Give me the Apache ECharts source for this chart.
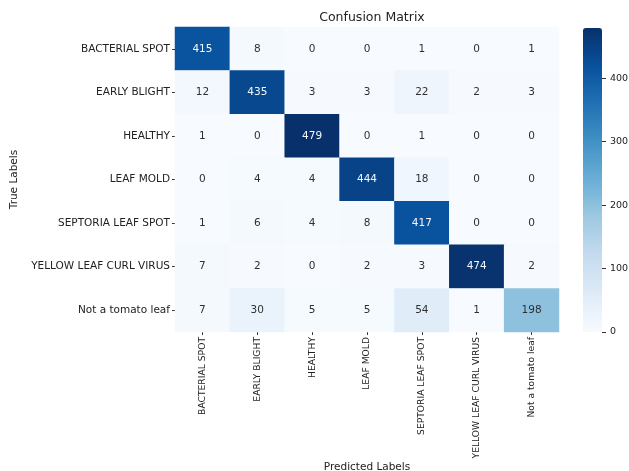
<!DOCTYPE html>
<html>
<head>
<meta charset="utf-8">
<script src="https://cdn.jsdelivr.net/npm/echarts@6/dist/echarts.min.js"></script>
<style>
    html, body { margin: 0; padding: 0; background: #fff; }
    #chart { width: 629px; height: 471px; }
</style>
</head>
<body>
<div id="chart"></div>
<script>
// class names, same order on both axes
var class_names = ['BACTERIAL SPOT', 'EARLY BLIGHT', 'HEALTHY', 'LEAF MOLD',
    'SEPTORIA LEAF SPOT', 'YELLOW LEAF CURL VIRUS', 'Not a tomato leaf'];

// one row per true label
var row_bacterial = [415, 8, 0, 0, 1, 0, 1];
var row_early = [12, 435, 3, 3, 22, 2, 3];
var row_healthy = [1, 0, 479, 0, 1, 0, 0];
var row_mold = [0, 4, 4, 444, 18, 0, 0];
var row_septoria = [1, 6, 4, 8, 417, 0, 0];
var row_yellow = [7, 2, 0, 2, 3, 474, 2];
var row_not_tomato = [7, 30, 5, 5, 54, 1, 198];

var colorbar_ticks = [0, 100, 200, 300, 400];

var blues = ['#f7fbff', '#deebf7', '#c6dbef', '#9ecae1', '#6baed6',
    '#4292c6', '#2171b5', '#08519c', '#08306b'];

window.onload = function () {
    render_matrix();
}

function render_matrix() {
    var rows = [row_bacterial, row_early, row_healthy, row_mold, row_septoria, row_yellow, row_not_tomato];
    var vmax = 0;
    var cells = [];
    for (let i = 0; i < rows.length; i++) {
        for (let j = 0; j < rows[i].length; j++) {
            if (rows[i][j] > vmax) vmax = rows[i][j];
        }
    }
    for (let i = 0; i < rows.length; i++) {
        for (let j = 0; j < rows[i].length; j++) {
            var v = rows[i][j];
            // 深色格子用白字
            cells.push({
                value: [j, i, v],
                label: {color: v > vmax * 0.6 ? '#f4f8fc' : '#303030'}
            });
        }
    }

    var myChart = echarts.init(document.getElementById('chart'));
    var font = 'DejaVu Sans';
    option = {
        animation: false,
        textStyle: {fontFamily: font},
        title: {
            text: 'Confusion Matrix',
            left: 367,
            top: 6,
            textAlign: 'center',
            textStyle: {fontFamily: font, fontSize: 12.5, fontWeight: 'normal', color: '#222'}
        },
        grid: [
            {left: 175, right: 70, top: 27, bottom: 139, outerBoundsMode: 'none'},
            {left: 583, right: 27, top: 28, bottom: 139, outerBoundsMode: 'none'}
        ],
        xAxis: [{
            type: 'category',
            data: class_names,
            gridIndex: 0,
            name: 'Predicted Labels',
            nameLocation: 'middle',
            nameGap: 130,
            nameMoveOverlap: false,
            nameTextStyle: {fontFamily: font, fontSize: 10.5, color: '#222', verticalAlign: 'top'},
            axisLine: {show: false},
            axisTick: {show: true, alignWithLabel: true, length: 3, lineStyle: {color: '#333'}},
            axisLabel: {rotate: 90, fontSize: 9.2, color: '#222', margin: 5, fontFamily: font},
            splitLine: {show: false}
        }, {
            type: 'value',
            gridIndex: 1,
            show: false,
            min: 0,
            max: 1
        }],
        yAxis: [{
            type: 'category',
            data: class_names,
            inverse: true,
            gridIndex: 0,
            name: 'True Labels',
            nameLocation: 'middle',
            nameGap: 155,
            nameMoveOverlap: false,
            nameTextStyle: {fontFamily: font, fontSize: 10.5, color: '#222'},
            axisLine: {show: false},
            axisTick: {show: true, alignWithLabel: true, length: 3, lineStyle: {color: '#333'}},
            axisLabel: {fontSize: 10.5, color: '#222', margin: 5, fontFamily: font},
            splitLine: {show: false}
        }, {
            type: 'value',
            gridIndex: 1,
            position: 'right',
            min: 0,
            max: vmax,
            interval: 100,
            axisLine: {show: false, onZero: false},
            axisTick: {show: true, inside: false, length: 4, lineStyle: {color: '#333'}},
            axisLabel: {
                fontSize: 9.5, color: '#222', margin: 8, fontFamily: font,
                showMaxLabel: false,
                formatter: function (v) { return colorbar_ticks.indexOf(v) >= 0 ? String(v) : ''; }
            },
            splitLine: {show: false}
        }],
        visualMap: {
            type: 'continuous',
            min: 0,
            max: vmax,
            seriesIndex: 0,
            calculable: false,
            hoverLink: false,
            orient: 'vertical',
            left: 583,
            top: 28,
            padding: 0,
            itemWidth: 19,
            itemHeight: 304,
            text: null,
            inRange: {color: blues}
        },
        series: [{
            type: 'heatmap',
            xAxisIndex: 0,
            yAxisIndex: 0,
            data: cells,
            label: {show: true, fontSize: 10.5, fontFamily: font},
            itemStyle: {borderWidth: 0},
            emphasis: {disabled: true}
        }, {
            type: 'scatter',
            xAxisIndex: 1,
            yAxisIndex: 1,
            data: [],
            silent: true
        }]
    };
    myChart.setOption(option);
}
</script>
</body>
</html>
